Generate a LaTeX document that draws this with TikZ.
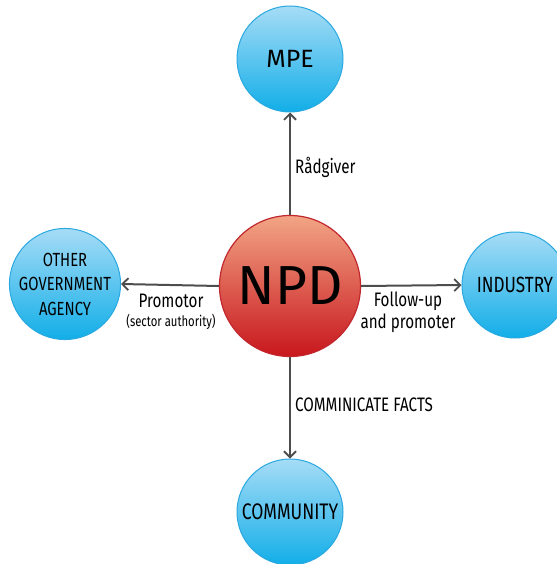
\documentclass[tikz,border=0pt]{standalone}
\usepackage{fontspec}
\setmainfont{Fira Sans}
\newfontfamily\condfont[FakeStretch=0.78]{Fira Sans}
\usetikzlibrary{arrows.meta}
\definecolor{bluetop}{HTML}{A6DCF6}
\definecolor{bluebot}{HTML}{12AEE8}
\definecolor{blueline}{HTML}{2AA8E0}
\definecolor{redtop}{HTML}{F2A585}
\definecolor{redbot}{HTML}{C8161D}
\definecolor{redline}{HTML}{C1272D}
\definecolor{arrowgray}{HTML}{4D4D4D}
\tikzset{
  bluecirc/.style={circle, draw=blueline, line width=1pt, top color=bluetop, bottom color=bluebot, minimum size=106pt, inner sep=0pt, align=center, text=black},
  redcirc/.style={circle, draw=redline, line width=1.2pt, top color=redtop, bottom color=redbot, minimum size=141pt, inner sep=0pt, text=black},
  conn/.style={draw=arrowgray, line width=2pt, -{Straight Barb[length=6pt,width=12pt,line width=1.8pt]}},
  lbl/.style={inner sep=0pt, text=black, font=\condfont\fontsize{19.5}{21}\selectfont},
  smalllbl/.style={inner sep=0pt, text=black, font=\condfont\fontsize{14.5}{16}\selectfont}
}
\begin{document}
\begin{tikzpicture}[x=1pt,y=-1pt]
\useasboundingbox (0,0) rectangle (556,564);
\node[redcirc, font=\fontsize{55}{58}\selectfont] (npd) at (290,286) {NPD};
\node[bluecirc, font=\fontsize{25}{27}\selectfont] (mpe) at (290,59) {MPE};
\node[bluecirc, font=\condfont\fontsize{19}{24.5}\selectfont] (oga) at (65,284) {OTHER\\GOVERNMENT\\AGENCY};
\node[bluecirc, font=\condfont\fontsize{22}{24}\selectfont] (ind) at (515,285) {INDUSTRY};
\node[bluecirc, font=\condfont\fontsize{22.5}{24}\selectfont] (com) at (290,512) {COMMUNITY};
\draw[conn] (npd.north) -- (mpe.south);
\draw[conn] (npd.west) -- (oga.east);
\draw[conn] (npd.east) -- (ind.west);
\draw[conn] (npd.south) -- (com.north);
\node[lbl, anchor=west] (l1) at (295,167) {Rådgiver};
\node[lbl] (l2) at (171,301) {Promotor};
\node[smalllbl] (l3) at (171,322) {(sector authority)};
\node[lbl] (l4) at (408,301) {Follow-up};
\node[lbl] (l5) at (408,323) {and promoter};
\node[lbl, anchor=west] (l6) at (295,405) {COMMINICATE FACTS};
\end{tikzpicture}
\end{document}
